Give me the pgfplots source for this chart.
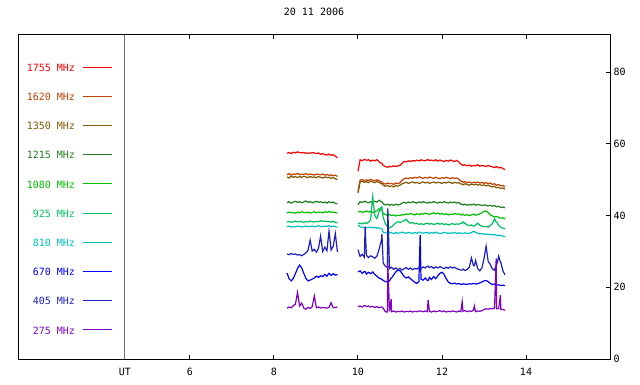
\documentclass[border=0pt]{standalone}
\usepackage{fontspec}
\setmainfont{DejaVu Sans Mono}
\usepackage{pgfplots}
\usepackage{pgfplotstable}
\pgfplotsset{compat=1.18}
\definecolor{c1755}{HTML}{FF0000}
\definecolor{c1620}{HTML}{C04000}
\definecolor{c1350}{HTML}{805800}
\definecolor{c1215}{HTML}{208020}
\definecolor{c1080}{HTML}{00C000}
\definecolor{c925}{HTML}{00C060}
\definecolor{c810}{HTML}{00C0C0}
\definecolor{c670}{HTML}{0000FF}
\definecolor{c405}{HTML}{2020C0}
\definecolor{c275}{HTML}{8000C0}
\pgfplotstableread{
t s1755 s1620 s1350 s1215 s1080 s925 s810 s670 s405 s275
8.31 57.4 51.4 50.8 43.6 40.7 38.2 36.9 24.0 29.3 14.2
8.36 57.6 51.7 50.5 43.9 41.0 38.4 37.1 22.4 29.1 14.5
8.41 57.3 51.3 51.0 43.5 40.8 38.1 36.8 21.8 29.4 14.3
8.46 57.7 51.6 50.7 43.8 40.9 38.3 37.0 22.5 29.2 14.9
8.51 57.5 51.5 50.9 44.0 40.7 38.5 36.9 23.8 29.3 15.3
8.56 57.8 51.8 50.6 43.7 41.0 38.2 37.1 25.3 29.0 18.6
8.61 57.6 51.4 50.9 43.9 40.8 38.4 37.0 26.2 29.1 14.8
8.66 57.5 51.6 50.7 43.6 41.1 38.3 36.8 25.4 28.8 15.6
8.71 57.6 51.5 51.0 43.8 40.9 38.1 37.0 23.9 29.2 14.2
8.76 57.4 51.7 50.8 44.1 40.8 38.4 37.1 22.5 29.6 13.9
8.81 57.5 51.4 50.6 43.7 41.0 38.2 36.9 21.8 30.3 14.4
8.86 57.4 51.6 50.9 43.9 40.7 38.5 37.0 22.0 33.2 14.1
8.91 57.6 51.5 50.7 43.6 40.9 38.3 37.1 22.3 30.1 14.6
8.96 57.5 51.3 50.8 43.8 41.1 38.2 36.9 22.6 30.6 17.6
9.01 57.3 51.6 50.6 44.0 40.8 38.4 37.0 23.1 29.8 14.3
9.06 57.5 51.5 50.9 43.7 41.0 38.3 37.2 22.8 30.9 14.5
9.11 57.1 51.4 50.7 43.9 40.9 38.6 37.0 23.2 34.3 14.2
9.16 57.3 51.6 50.5 43.6 40.8 38.4 36.9 23.0 30.0 14.4
9.21 57.0 51.3 50.8 43.8 41.1 38.5 37.1 23.6 31.2 14.3
9.26 56.9 51.5 50.6 43.5 40.9 38.3 37.0 23.1 30.2 14.2
9.31 57.2 51.2 50.7 43.9 41.2 38.4 37.2 23.9 35.7 14.4
9.36 56.8 51.4 50.4 43.6 40.9 38.2 36.9 23.3 30.4 15.7
9.41 57.0 51.1 50.6 43.8 41.0 38.4 37.1 23.8 31.5 14.3
9.46 56.6 51.3 50.3 43.4 40.8 38.1 36.9 23.4 35.0 14.4
9.51 56.1 50.9 50.1 43.3 40.7 38.0 36.8 23.6 29.9 14.5
9.75 nan nan nan nan nan nan nan nan nan nan
10.00 52.4 46.8 46.3 43.0 41.0 37.8 37.4 24.3 30.5 14.6
10.05 55.6 49.9 49.4 43.9 41.2 37.9 36.9 24.6 28.6 14.8
10.10 55.3 50.1 49.6 43.7 40.9 37.7 36.7 23.9 29.2 14.5
10.15 55.7 49.7 49.3 44.0 41.1 38.0 36.8 24.4 28.4 14.9
10.17 55.7 49.7 49.3 44.0 41.1 38.0 36.8 24.4 36.9 14.9
10.20 55.4 50.0 49.5 43.8 41.3 37.8 36.6 23.7 28.9 14.6
10.25 55.6 49.8 49.2 43.6 41.0 38.1 36.7 24.2 28.3 14.8
10.30 55.2 50.1 49.6 43.9 41.2 38.9 36.8 23.8 28.8 14.5
10.35 55.5 49.9 49.4 43.7 40.9 45.3 36.6 24.3 28.5 14.7
10.40 55.3 49.7 49.2 44.0 41.1 40.0 36.7 23.6 28.1 14.4
10.45 55.6 50.0 49.5 43.8 41.3 39.2 36.5 23.1 28.7 14.6
10.50 55.1 49.8 49.3 44.3 41.9 41.0 36.6 22.6 30.5 14.3
10.55 54.6 49.4 48.9 43.9 41.5 42.4 36.3 22.3 32.7 14.5
10.57 54.6 49.4 48.9 43.9 41.5 42.4 36.3 22.3 34.8 14.5
10.60 54.0 49.0 48.5 43.3 40.6 39.5 35.4 21.9 26.8 14.2
10.65 53.7 48.8 48.2 43.0 40.3 37.8 35.2 21.6 25.9 13.2
10.70 53.5 49.1 48.4 43.2 40.1 36.9 35.1 21.5 25.5 13.1
10.71 53.5 49.1 48.4 43.2 40.1 36.9 35.1 21.5 42.0 26.5
10.75 53.8 48.9 48.1 42.9 40.3 36.6 35.3 21.8 25.2 13.3
10.79 53.6 49.0 48.3 43.1 40.0 36.9 35.2 22.6 25.6 16.7
10.80 53.6 49.0 48.3 43.1 40.0 36.9 35.2 22.6 25.6 13.2
10.85 53.9 48.7 48.0 42.9 40.2 37.4 35.0 23.5 25.0 13.4
10.90 53.7 49.1 48.4 43.2 39.9 38.0 35.3 24.3 25.4 13.1
10.95 53.9 48.9 48.2 43.0 40.1 38.3 35.1 24.8 24.9 13.3
11.00 54.0 49.2 48.5 43.1 40.0 38.1 35.2 24.6 25.3 13.2
11.05 54.6 49.9 48.9 43.5 40.3 38.4 35.4 23.9 24.8 13.4
11.10 55.1 50.3 49.1 43.7 40.2 38.6 35.2 23.0 25.2 13.1
11.15 55.0 50.5 49.3 43.5 40.5 39.0 35.1 22.6 25.5 13.3
11.20 55.3 50.3 49.0 43.8 40.3 38.2 35.3 22.9 25.0 13.2
11.25 55.1 50.6 49.2 43.6 40.6 37.9 35.2 22.4 25.4 13.4
11.30 55.4 50.4 49.4 43.9 40.4 38.1 35.0 21.9 24.9 13.1
11.35 55.2 50.7 49.1 43.7 40.2 37.7 35.3 21.4 25.3 13.3
11.40 55.5 50.5 49.3 43.5 40.5 37.9 35.1 21.1 25.1 13.2
11.45 55.3 50.8 49.0 43.8 40.3 37.6 35.4 21.6 25.5 13.4
11.48 55.3 50.8 49.0 43.8 40.3 37.6 35.4 34.6 25.5 13.4
11.50 55.6 50.6 49.2 43.6 40.6 37.8 35.2 22.3 25.2 13.3
11.55 55.4 50.4 49.4 43.9 40.4 37.5 35.1 22.0 25.7 13.2
11.60 55.3 50.7 49.1 43.7 40.7 37.7 35.3 22.6 25.4 13.4
11.65 55.6 50.5 49.3 43.5 40.5 37.9 35.2 21.9 25.9 13.2
11.67 55.6 50.5 49.3 43.5 40.5 37.9 35.2 21.9 25.9 16.5
11.70 55.4 50.8 49.0 43.8 40.3 37.6 35.0 22.8 25.5 13.3
11.75 55.5 50.6 49.2 43.6 40.6 37.8 35.3 22.2 25.8 13.1
11.80 55.3 50.4 49.4 43.9 40.8 37.5 35.1 23.0 25.3 13.4
11.85 55.6 50.7 49.1 43.7 40.5 37.7 35.4 22.4 25.7 13.2
11.90 55.2 50.5 49.3 43.5 40.7 37.9 35.2 23.2 25.4 13.3
11.95 55.5 50.3 49.2 43.8 40.4 37.6 35.0 23.9 25.8 13.5
12.00 55.3 50.6 49.0 43.6 40.6 37.8 35.1 24.2 25.5 13.2
12.05 55.1 50.4 49.3 43.9 40.3 37.5 35.3 23.6 25.2 13.4
12.10 55.4 50.7 49.1 43.7 40.5 37.7 35.2 22.4 25.6 13.1
12.15 55.2 50.5 49.4 43.5 40.2 37.4 35.0 21.5 25.3 13.3
12.20 55.5 50.3 49.2 43.8 40.4 37.6 35.2 21.1 25.7 13.2
12.25 55.3 50.6 49.0 43.6 40.3 37.8 35.1 21.0 25.4 13.4
12.30 55.1 50.4 49.3 43.8 40.6 37.5 35.3 21.2 25.6 13.3
12.35 55.4 50.5 49.1 43.5 40.4 37.7 35.0 20.9 25.2 13.1
12.40 55.0 50.2 49.2 43.7 40.5 37.6 35.2 21.1 25.0 13.4
12.45 54.3 49.6 48.8 43.2 40.2 37.9 35.1 20.8 24.8 13.2
12.48 54.3 49.6 48.8 43.2 40.2 37.9 35.1 20.8 24.8 16.0
12.50 54.0 49.3 48.6 43.0 40.4 38.3 35.0 21.0 25.1 13.3
12.55 54.2 49.5 48.9 43.2 40.1 37.8 35.2 20.9 24.7 13.5
12.60 53.9 49.2 48.7 42.9 40.3 37.4 35.0 20.8 25.0 13.2
12.65 54.1 49.4 48.5 43.1 40.0 37.2 35.1 21.0 25.6 13.4
12.70 53.8 49.1 48.8 43.0 40.2 37.4 35.3 20.9 28.2 13.3
12.75 54.0 49.3 48.6 43.2 40.4 37.1 35.6 21.1 26.0 13.6
12.77 54.0 49.3 48.6 43.2 40.4 37.1 35.6 21.1 26.0 14.8
12.80 53.9 49.2 48.8 42.9 40.1 37.4 35.3 20.9 27.5 13.2
12.85 54.2 49.4 48.5 43.1 40.3 37.9 35.1 21.0 25.2 13.4
12.90 53.8 49.1 48.7 43.0 40.5 37.3 34.9 21.2 24.6 13.3
12.95 54.0 49.3 48.4 42.8 40.8 37.1 35.0 21.5 25.4 13.5
13.00 53.9 49.0 48.6 43.0 41.2 36.9 34.8 21.8 28.0 13.8
13.05 53.7 49.2 48.3 42.9 41.3 37.0 34.9 21.9 31.5 14.0
13.10 54.0 48.9 48.5 42.7 40.8 36.8 34.7 21.6 27.2 13.9
13.15 53.8 49.1 48.2 42.9 40.2 37.2 34.8 21.1 26.4 14.1
13.20 53.6 48.7 48.0 42.6 39.9 37.8 34.6 20.8 25.1 14.0
13.25 53.4 48.9 48.2 42.8 39.6 39.1 34.7 20.9 24.8 14.2
13.29 53.7 48.5 47.8 42.5 39.8 38.2 34.5 20.6 26.2 28.0
13.30 53.7 48.5 47.8 42.5 39.8 38.2 34.5 20.6 26.2 14.0
13.35 53.3 48.7 47.9 42.6 39.5 37.3 34.6 20.7 28.7 14.1
13.39 53.5 48.3 47.6 42.3 39.3 36.8 34.4 20.5 27.0 17.8
13.40 53.5 48.3 47.6 42.3 39.3 36.8 34.4 20.5 27.0 13.9
13.45 53.1 48.4 47.7 42.4 39.4 36.5 34.3 20.6 24.6 13.8
13.50 52.9 48.0 47.4 42.2 39.1 36.3 34.1 20.5 23.5 13.6
}\radiodata
\begin{document}
\begin{tikzpicture}
\begin{axis}[
  at={(0pt,0pt)}, anchor=south west,
  scale only axis, width=592pt, height=324pt,
  xmin=1.905, xmax=16.0, ymin=0, ymax=90.4,
  unbounded coords=jump,
  axis line style={line width=1pt},
  xtick={6,8,10,12,14}, ytick={0,20,40,60,80},
  xtick pos=both, xticklabel pos=lower,
  ytick pos=right, yticklabel pos=right,
  tick align=inside, major tick length=4pt,
  tick style={black, line width=1pt},
  extra x ticks={4.45}, extra x tick labels={UT},
  extra x tick style={xmajorgrids=true, major grid style={black!55, line width=1pt}, major tick length=0pt},
  ticklabel style={font=\fontsize{10}{12}\selectfont},
  /pgf/number format/assume math mode=true,
  xticklabel style={yshift=-5.5pt},
  title={20 11 2006},
  title style={at={(0.5,1)}, anchor=center, yshift=17.5pt, font=\fontsize{10}{12}\selectfont},
  legend plot pos=right, legend cell align=right,
  legend image code/.code={\draw[#1, line width=1pt] (0pt,0.6pt) -- (29pt,0.6pt);},
  legend style={at={(0.1588,0.9105)}, anchor=north east, draw=none, fill=none,
    inner sep=0pt, outer sep=0pt, row sep=21.9pt, column sep=7pt,
    nodes={inner sep=0pt, text height=7.3pt, text depth=0pt, font=\fontsize{10}{12}\selectfont}},
  every axis plot/.append style={line width=1.2pt},
]
\addplot[c1755] table[x=t,y=s1755]{\radiodata};
\addlegendentry[text=c1755]{1755 MHz}
\addplot[c1620] table[x=t,y=s1620]{\radiodata};
\addlegendentry[text=c1620]{1620 MHz}
\addplot[c1350] table[x=t,y=s1350]{\radiodata};
\addlegendentry[text=c1350]{1350 MHz}
\addplot[c1215] table[x=t,y=s1215]{\radiodata};
\addlegendentry[text=c1215]{1215 MHz}
\addplot[c1080] table[x=t,y=s1080]{\radiodata};
\addlegendentry[text=c1080]{1080 MHz}
\addplot[c925] table[x=t,y=s925]{\radiodata};
\addlegendentry[text=c925]{925 MHz}
\addplot[c810] table[x=t,y=s810]{\radiodata};
\addlegendentry[text=c810]{810 MHz}
\addplot[c670] table[x=t,y=s670]{\radiodata};
\addlegendentry[text=c670]{670 MHz}
\addplot[c405] table[x=t,y=s405]{\radiodata};
\addlegendentry[text=c405]{405 MHz}
\addplot[c275] table[x=t,y=s275]{\radiodata};
\addlegendentry[text=c275]{275 MHz}
\end{axis}
\pgfresetboundingbox
\path[use as bounding box] (-18pt,-25pt) rectangle (622pt,359pt);
\end{tikzpicture}
\end{document}
